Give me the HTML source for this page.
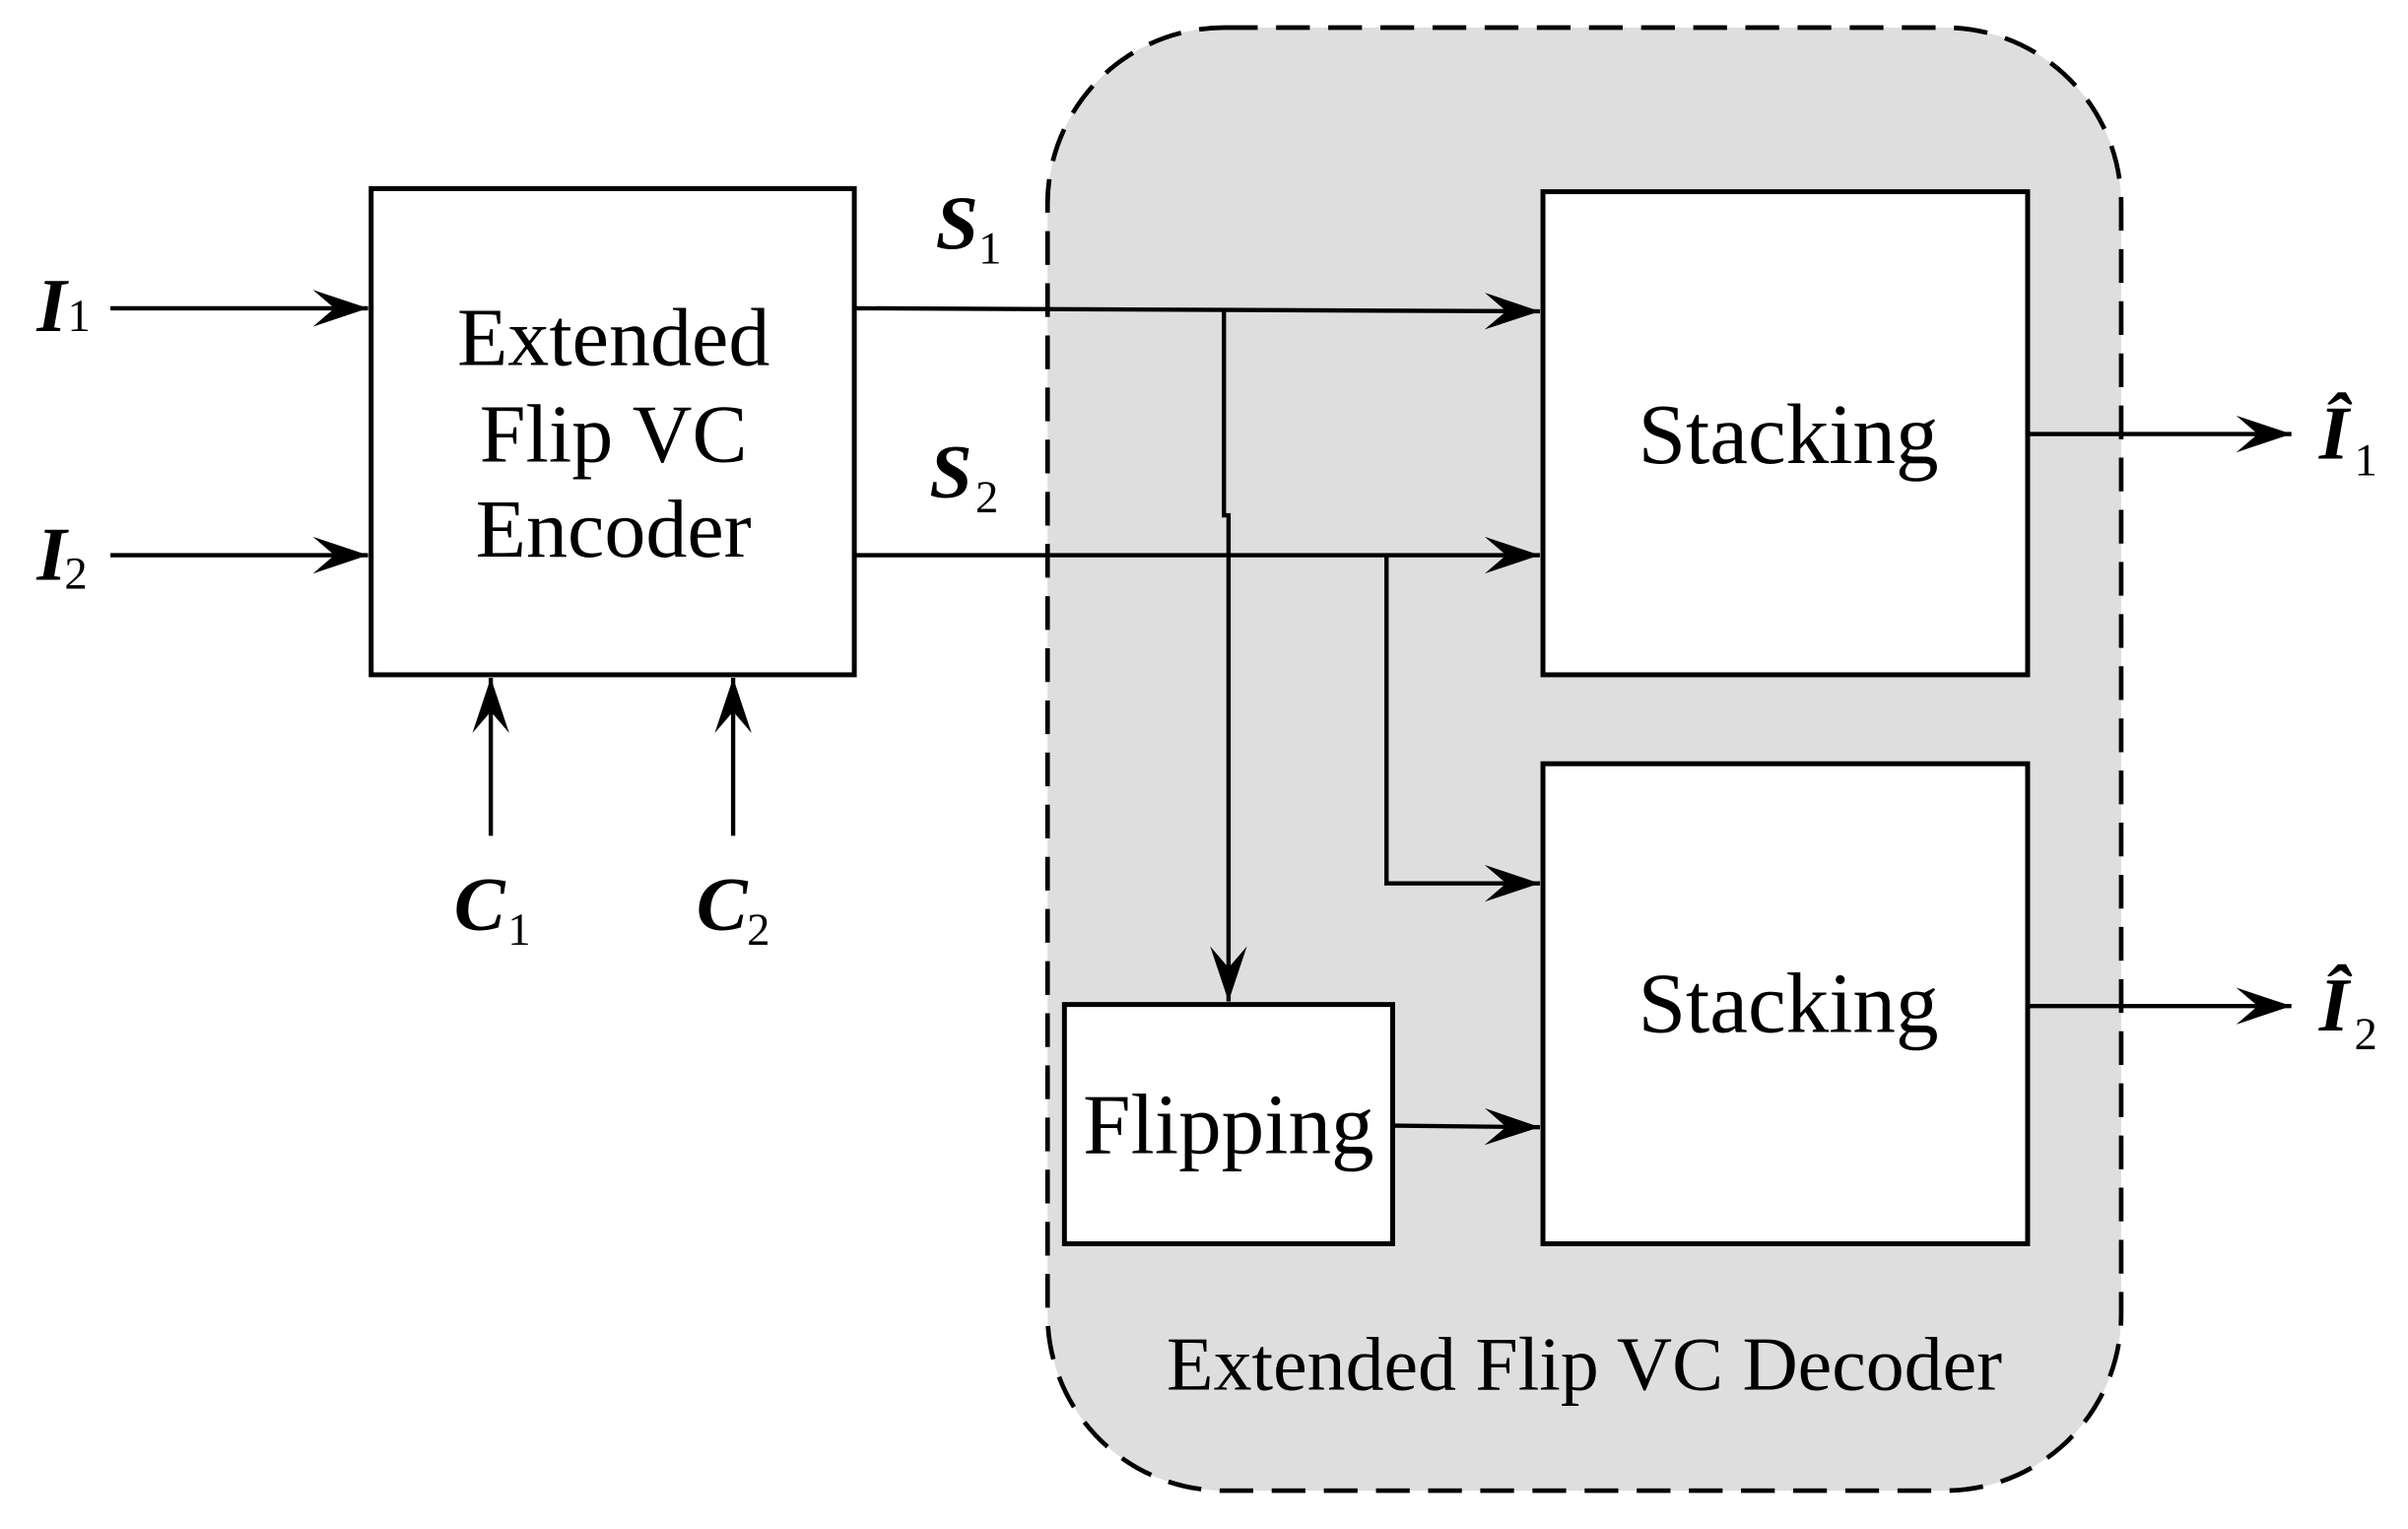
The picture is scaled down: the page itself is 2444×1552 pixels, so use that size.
<!DOCTYPE html>
<html><head><meta charset="utf-8"><style>
html,body{margin:0;padding:0;background:#fff;width:2444px;height:1552px;overflow:hidden}
svg{display:block}
text{font-family:"Liberation Serif",serif;fill:#000}
</style></head><body>
<svg width="2444" height="1552" viewBox="0 0 1570 997" preserveAspectRatio="none" xmlns="http://www.w3.org/2000/svg">
<defs>
<marker id="a" markerWidth="40" markerHeight="30" refX="36" refY="12" orient="auto" markerUnits="userSpaceOnUse">
<path d="M0,0 L36,12 L0,24 L14,12 Z" fill="#000"/>
</marker>
</defs>
<rect x="683" y="18" width="700" height="954" rx="115" ry="115" fill="#dedede" stroke="#000" stroke-width="3" stroke-dasharray="22,12"/>
<g stroke="#000" stroke-width="3.2" fill="#fff">
<rect x="242" y="123" width="315" height="317"/>
<rect x="1006" y="125" width="316" height="315"/>
<rect x="1006" y="498" width="316" height="313"/>
<rect x="694" y="655" width="214" height="156"/>
</g>
<g stroke="#000" stroke-width="2.8" fill="none">
<line x1="72" y1="201" x2="240" y2="201" marker-end="url(#a)"/>
<line x1="72" y1="362" x2="240" y2="362" marker-end="url(#a)"/>
<line x1="320" y1="545" x2="320" y2="442" marker-end="url(#a)"/>
<line x1="478" y1="545" x2="478" y2="442" marker-end="url(#a)"/>
<line x1="557" y1="201" x2="1004" y2="203" marker-end="url(#a)"/>
<line x1="557" y1="362" x2="1004" y2="362" marker-end="url(#a)"/>
<polyline points="798,202 798,336 801,336 801,653" marker-end="url(#a)"/>
<polyline points="904,362 904,576 1004,576" marker-end="url(#a)"/>
<line x1="908" y1="734" x2="1004" y2="735" marker-end="url(#a)"/>
<line x1="1322" y1="283" x2="1494" y2="283" marker-end="url(#a)"/>
<line x1="1322" y1="656" x2="1494" y2="656" marker-end="url(#a)"/>
</g>
<g font-size="54" text-anchor="middle">
<text x="400" y="238">Extended</text>
<text x="400" y="301">Flip VC</text>
<text x="400" y="363">Encoder</text>
</g>
<g font-size="56" text-anchor="middle">
<text x="1166" y="302">Stacking</text>
<text x="1166" y="673">Stacking</text>
<text x="801" y="752">Flipping</text>
</g>
<text x="1033" y="906" font-size="50" text-anchor="middle">Extended Flip VC Decoder</text>
<g font-size="50" font-weight="bold" font-style="italic">
<text x="24" y="216">I</text><text x="24" y="378">I</text>
<text x="296" y="606">C</text><text x="454" y="606">C</text>
<text x="610" y="162">S</text><text x="606" y="324">S</text>
<text x="1512" y="299">Î</text><text x="1512" y="672">Î</text>
</g>
<g font-size="30">
<text x="44" y="216">1</text><text x="42" y="384">2</text>
<text x="331" y="616">1</text><text x="487" y="616">2</text>
<text x="638" y="172">1</text><text x="636" y="334">2</text>
<text x="1535" y="310">1</text><text x="1535" y="684">2</text>
</g>
</svg>
</body></html>
